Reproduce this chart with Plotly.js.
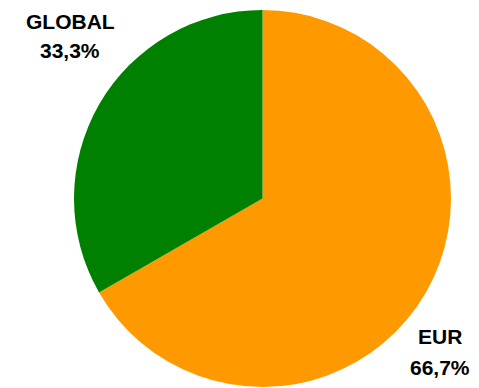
<!DOCTYPE html>
<html><head><meta charset="utf-8">
<script src="https://cdn.plot.ly/plotly-3.0.1.min.js"></script>
<style>html,body{margin:0;padding:0;background:#fff}#c{width:479px;height:388px}</style>
</head><body><div id="c"></div>
<script>
const categories = ['EUR', 'GLOBAL'];
const values = [66.7, 33.3];
const colors = ['#FF9900', '#008000'];

const total = values.reduce((a, b) => a + b, 0);
const pct = values.map(v => (v / total * 100).toFixed(1).replace('.', ',') + '%');

const labelPos = {
  'GLOBAL': {x: 70, y1: 21, y2: 51},
  'EUR': {x: 440, y1: 336, y2: 367}
};
const W = 479, H = 388;
const annotations = [];
categories.forEach((c, i) => {
  const p = labelPos[c];
  annotations.push({text: '<b>' + c + '</b>', x: p.x / W, y: 1 - p.y1 / H, xref: 'paper', yref: 'paper',
    showarrow: false, xanchor: 'center', yanchor: 'middle', font: {family: 'Liberation Sans, Arial', size: 21, color: '#000'}});
  annotations.push({text: '<b>' + pct[i] + '</b>', x: p.x / W, y: 1 - p.y2 / H, xref: 'paper', yref: 'paper',
    showarrow: false, xanchor: 'center', yanchor: 'middle', font: {family: 'Liberation Sans, Arial', size: 21, color: '#000'}});
});

Plotly.newPlot('c', [{
  type: 'pie',
  labels: categories,
  values: values,
  sort: false,
  direction: 'clockwise',
  rotation: 0,
  textinfo: 'none',
  hoverinfo: 'label+percent',
  marker: {colors: colors, line: {width: 0}},
  domain: {x: [74 / W, 451 / W], y: [1 - 387 / H, 1 - 10 / H]}
}], {
  width: W, height: H,
  margin: {l: 0, r: 0, t: 0, b: 0},
  showlegend: false,
  paper_bgcolor: '#fff',
  annotations: annotations
}, {displayModeBar: false, staticPlot: true});
</script></body></html>
